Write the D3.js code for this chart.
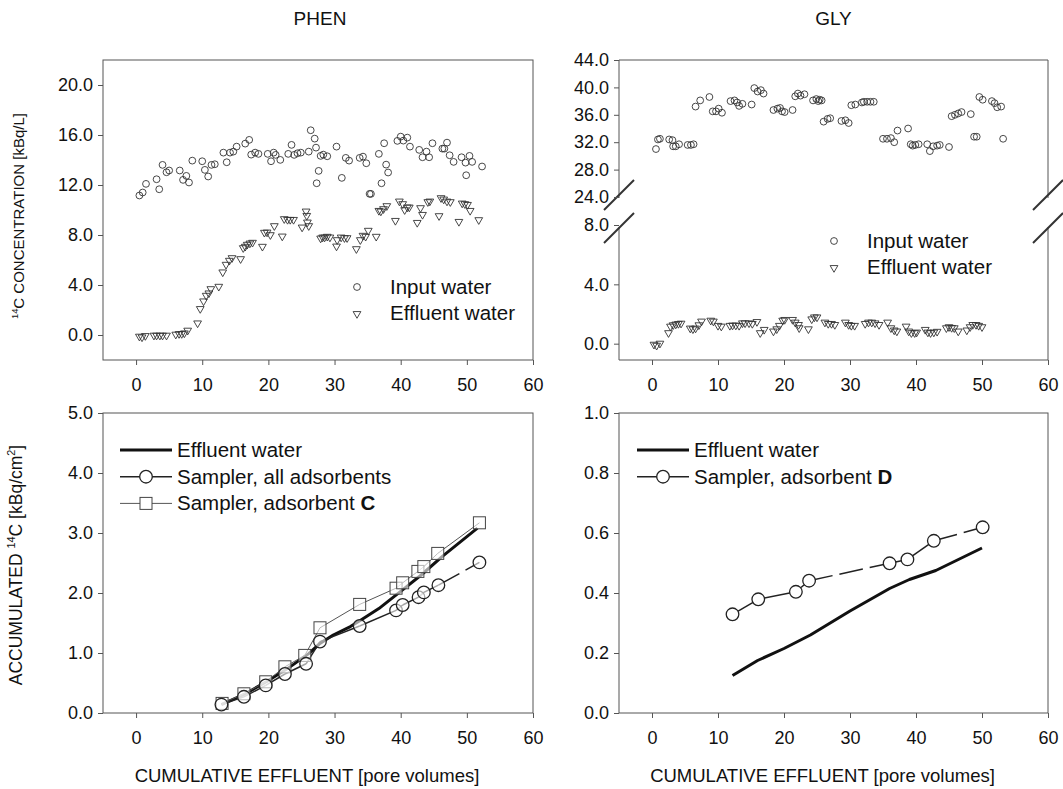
<!DOCTYPE html>
<html><head><meta charset="utf-8">
<script src="https://cdn.jsdelivr.net/npm/d3@7"></script>
<style>
body{margin:0;background:#fff}
svg{display:block}
text{font-family:"Liberation Sans",Arial,Helvetica,sans-serif;fill:#111}
</style>
</head><body>
<svg id="chart" width="1063" height="789"></svg>
<script>
// ---------------- DATA ----------------
const panelTitles = ["PHEN", "GLY"];
const xTicks = [0, 10, 20, 30, 40, 50, 60];
const phenConcTicks = [0, 4, 8, 12, 16, 20];
const glyUpperTicks = [24, 28, 32, 36, 40, 44];
const glyLowerTicks = [0, 4, 8];
const phenAccTicks = [0, 1, 2, 3, 4, 5];
const glyAccTicks = [0, 0.2, 0.4, 0.6, 0.8, 1.0];

// PHEN, 14C concentration [kBq/L]: [pore volumes, value]
const phenInput = [[0.5,11.16],[1.0,11.40],[1.5,12.09],[3.1,12.46],[3.5,11.66],[4.0,13.61],[4.6,13.02],[5.0,13.16],[6.6,13.16],[7.1,12.41],[7.6,12.73],[8.0,12.20],[8.5,13.95],[10.0,13.90],[10.4,13.21],[10.9,12.68],[11.4,13.61],[11.9,13.66],[13.2,14.59],[13.7,13.82],[14.2,14.59],[14.7,14.67],[15.2,15.07],[16.5,15.31],[17.1,15.61],[17.4,14.43],[18.0,14.59],[18.5,14.49],[19.9,14.49],[20.4,13.90],[20.8,14.59],[21.1,14.41],[21.8,14.01],[23.0,14.49],[23.5,15.21],[23.9,14.41],[24.4,14.54],[24.9,14.59],[26.1,14.67],[26.4,16.38],[27.0,15.71],[27.2,14.99],[27.3,12.14],[27.6,13.13],[27.9,14.33],[28.3,14.43],[28.9,14.30],[30.3,15.07],[31.1,12.57],[31.7,14.17],[32.2,13.95],[33.8,14.17],[34.3,14.27],[34.8,13.74],[35.3,11.29],[35.5,11.29],[36.7,14.49],[37.1,12.14],[37.5,15.34],[37.8,13.63],[38.1,13.00],[39.5,15.53],[40.0,15.87],[40.4,15.55],[41.0,15.79],[41.4,15.07],[42.8,14.81],[43.3,14.22],[43.9,14.67],[44.3,14.22],[44.8,15.34],[46.3,14.91],[46.6,14.91],[47.0,15.39],[47.4,14.38],[48.0,13.85],[49.2,14.22],[49.8,13.79],[49.9,12.78],[50.4,14.33],[50.8,13.85],[52.3,13.48]];
const phenEffluent = [[0.5,-0.05],[0.9,-0.11],[1.4,0.0],[2.7,0.03],[3.1,0.03],[3.6,0.03],[4.0,0.03],[4.6,0.03],[6.0,0.11],[6.5,0.16],[6.9,0.16],[7.3,0.21],[7.8,0.43],[9.3,1.01],[9.7,2.16],[10.2,2.77],[10.6,3.22],[11.0,3.41],[11.3,3.75],[12.5,3.94],[13.1,5.09],[13.6,5.70],[14.1,6.02],[14.5,6.23],[15.8,6.15],[16.2,7.03],[16.5,7.14],[16.8,7.30],[17.2,7.40],[17.6,7.46],[19.1,7.14],[19.4,8.26],[19.8,8.28],[20.3,8.07],[20.9,8.79],[22.1,7.96],[22.4,9.35],[22.9,9.29],[23.3,9.29],[23.8,9.29],[25.1,8.68],[25.7,9.96],[25.8,9.61],[25.9,9.08],[26.1,8.79],[27.9,7.80],[28.2,7.88],[28.5,7.88],[28.9,7.94],[29.3,7.88],[30.3,7.16],[30.4,7.67],[31.0,7.88],[31.5,7.83],[31.9,7.83],[33.3,6.95],[33.9,7.67],[34.3,8.02],[34.7,7.94],[35.1,8.42],[36.3,7.94],[36.7,10.01],[37.0,9.96],[37.4,10.15],[37.9,10.39],[39.2,9.21],[39.8,10.76],[40.3,10.55],[40.6,10.07],[41.0,10.28],[41.3,10.28],[42.5,9.05],[43.0,10.23],[43.3,9.69],[44.1,10.71],[44.4,10.76],[45.8,9.59],[46.1,11.03],[46.5,10.92],[47.0,10.76],[47.5,10.71],[48.8,9.13],[49.3,10.60],[49.7,10.55],[50.1,10.49],[50.5,10.01],[51.8,9.27]];

// GLY, 14C concentration [kBq/L]
const glyInput = [[0.6,31.0],[0.9,32.4],[1.2,32.5],[2.6,32.4],[3.1,32.3],[3.2,31.4],[3.6,31.4],[4.1,31.7],[5.4,31.6],[5.9,31.6],[6.3,31.7],[6.6,37.2],[7.3,38.1],[8.7,38.6],[9.2,36.5],[9.7,36.5],[10.1,36.9],[10.6,36.3],[11.9,38.0],[12.5,38.1],[12.9,37.8],[13.2,37.3],[13.7,37.6],[15.1,37.5],[15.5,39.9],[16.0,39.4],[16.5,39.6],[16.9,39.1],[18.4,36.7],[19.0,36.9],[19.4,37.0],[19.7,36.5],[20.1,36.4],[21.3,36.7],[21.7,38.7],[22.1,39.1],[22.5,38.8],[23.1,39.0],[24.4,38.1],[24.9,38.3],[25.2,38.0],[25.4,38.2],[25.7,38.1],[26.0,35.0],[26.6,35.4],[27.0,35.5],[28.7,35.1],[29.3,35.2],[29.8,34.8],[30.2,37.4],[30.8,37.5],[31.8,37.8],[32.1,37.9],[32.6,37.9],[33.1,37.9],[33.6,37.9],[35.0,32.5],[35.6,32.5],[36.2,32.6],[36.7,32.0],[37.2,33.7],[38.8,34.0],[39.2,31.7],[39.5,31.5],[39.9,31.6],[40.4,31.7],[41.7,31.7],[42.1,30.7],[42.6,31.4],[43.2,31.5],[43.6,31.6],[45.0,31.3],[45.4,35.8],[45.9,36.0],[46.4,36.2],[46.9,36.4],[48.3,36.1],[48.8,32.8],[49.2,32.8],[49.6,38.6],[50.1,38.2],[51.5,38.0],[51.9,37.7],[52.3,37.1],[52.9,37.2],[53.2,32.5]];
const glyEffluent = [[0.3,0.0],[0.7,-0.07],[1.2,0.07],[2.5,0.78],[2.8,1.22],[3.2,1.31],[3.6,1.36],[4.0,1.40],[4.4,1.42],[5.8,1.09],[6.2,1.04],[6.6,1.09],[7.1,1.31],[7.5,1.56],[8.9,1.62],[9.3,1.56],[10.0,1.27],[10.5,1.22],[11.8,1.27],[12.2,1.29],[12.7,1.29],[13.2,1.27],[13.7,1.44],[14.1,1.44],[14.7,1.44],[15.2,1.40],[15.9,1.53],[16.4,0.78],[17.0,1.00],[18.4,0.89],[18.9,1.04],[19.3,1.27],[19.8,1.62],[20.1,1.67],[21.3,1.67],[21.7,1.49],[22.2,1.33],[22.3,1.11],[23.7,1.04],[24.2,1.71],[24.6,1.84],[25.0,1.84],[26.2,1.49],[26.7,1.40],[27.2,1.40],[27.7,1.33],[29.3,1.49],[29.8,1.33],[30.2,1.27],[30.7,1.27],[32.3,1.40],[32.8,1.49],[33.3,1.49],[33.8,1.44],[34.4,1.33],[35.7,1.49],[36.2,1.11],[36.7,0.96],[37.1,0.89],[38.5,1.22],[38.9,0.89],[39.3,0.78],[39.8,0.78],[40.1,0.82],[41.4,1.00],[41.8,0.82],[42.2,0.78],[42.7,0.82],[43.2,0.87],[44.6,1.11],[45.0,1.18],[45.4,1.13],[45.8,1.11],[46.4,0.89],[47.7,0.96],[48.2,1.18],[48.6,1.33],[49.1,1.33],[49.5,1.27],[50.0,1.18]];

// PHEN, accumulated 14C [kBq/cm2]
const phenAccEffluent = [[12.9,0.14],[16.5,0.32],[19.7,0.52],[22.9,0.74],[26.1,0.99],[27.8,1.16],[29.8,1.30],[32.4,1.44],[34.0,1.55],[36.7,1.74],[39.9,2.02],[43.1,2.30],[46.3,2.61],[51.6,3.08]];
const phenAccAll = [[12.9,0.14],[16.3,0.27],[19.6,0.46],[22.5,0.65],[25.7,0.82],[27.8,1.19],[33.8,1.45],[39.3,1.71],[40.3,1.80],[42.7,1.93],[43.5,2.01],[45.7,2.13],[51.9,2.51]];
const phenAccC = [[13.0,0.16],[16.3,0.32],[19.6,0.52],[22.5,0.77],[25.5,0.96],[27.8,1.42],[33.8,1.81],[39.3,2.08],[40.3,2.17],[42.6,2.36],[43.5,2.44],[45.6,2.66],[51.9,3.17]];

// GLY, accumulated 14C [kBq/cm2]
const glyAccEffluent = [[12.2,0.125],[16.0,0.175],[20.0,0.215],[24.0,0.26],[30.0,0.34],[36.0,0.415],[39.0,0.445],[43.0,0.475],[50.0,0.55]];
const glyAccD = [[12.2,0.329],[16.1,0.379],[21.8,0.404],[23.8,0.441],[36.0,0.499],[38.7,0.512],[42.7,0.574],[50.1,0.619]];

// ---------------- DRAWING ----------------
const svg = d3.select("#chart");
const INK = "#1a1a1a", FRAME = "#555";
const L = {x0:103, x1:533}, R = {x0:619, x1:1048};
const TOP = {y0:60, y1:360}, BOT = {y0:413, y1:713};

const xL = d3.scaleLinear([-5, 60], [L.x0, L.x1]);
const xR = d3.scaleLinear([-5, 60], [R.x0, R.x1]);
const yPhenConc = d3.scaleLinear([-2, 22], [TOP.y1, TOP.y0]);
const yGlyUp = d3.scaleLinear([24, 44], [197, TOP.y0]);
const yGlyLow = d3.scaleLinear([-1.1, 8], [TOP.y1, 225]);
const yPhenAcc = d3.scaleLinear([0, 5], [BOT.y1, BOT.y0]);
const yGlyAcc = d3.scaleLinear([0, 1], [BOT.y1, BOT.y0]);

function styleAxis(g, fs){
  g.select(".domain").remove();
  g.selectAll(".tick line").attr("stroke", FRAME).attr("stroke-width", 1);
  g.selectAll(".tick text").attr("fill", INK).style("font-size", fs + "px")
    .style("font-family", '"Liberation Sans",Arial,sans-serif');
}
function xAxis(x, y){
  const g = svg.append("g").attr("transform", `translate(0,${y})`)
    .call(d3.axisBottom(x).tickValues(xTicks).tickSize(5).tickPadding(13).tickFormat(d3.format("d")));
  styleAxis(g, 18);
}
function yAxis(y, x, ticks, fmt){
  const g = svg.append("g").attr("transform", `translate(${x},0)`)
    .call(d3.axisLeft(y).tickValues(ticks).tickSize(5).tickPadding(5).tickFormat(d3.format(fmt)));
  styleAxis(g, 18);
}
function frame(P, V){
  svg.append("rect").attr("x", P.x0).attr("y", V.y0).attr("width", P.x1 - P.x0).attr("height", V.y1 - V.y0)
    .attr("fill", "none").attr("stroke", FRAME).attr("stroke-width", 1);
}
function line(x1,y1,x2,y2,w,c){
  svg.append("line").attr("x1",x1).attr("y1",y1).attr("x2",x2).attr("y2",y2)
    .attr("stroke", c||FRAME).attr("stroke-width", w||1);
}

// Titles
svg.append("text").attr("x", (L.x0+L.x1)/2 + 2).attr("y", 25).attr("text-anchor","middle").style("font-size","19px").text(panelTitles[0]);
svg.append("text").attr("x", (R.x0+R.x1)/2).attr("y", 25).attr("text-anchor","middle").style("font-size","19px").text(panelTitles[1]);

// Frames
frame(L, TOP); frame(L, BOT); frame(R, BOT);
// GLY top frame with axis break
line(R.x0, TOP.y0, R.x1, TOP.y0);
line(R.x0, TOP.y1, R.x1, TOP.y1);
[R.x0, R.x1].forEach(x => { line(x, TOP.y0, x, 198); line(x, 227, x, TOP.y1); });
[R.x0, R.x1].forEach(x => {
  [195, 228].forEach(yc => line(x-15, yc+15, x+15, yc-15, 2, "#333"));
});

// Axes
xAxis(xL, TOP.y1); xAxis(xR, TOP.y1); xAxis(xL, BOT.y1); xAxis(xR, BOT.y1);
yAxis(yPhenConc, L.x0, phenConcTicks, ".1f");
yAxis(yGlyUp, R.x0, glyUpperTicks, ".1f");
yAxis(yGlyLow, R.x0, glyLowerTicks, ".1f");
yAxis(yPhenAcc, L.x0, phenAccTicks, ".1f");
yAxis(yGlyAcc, R.x0, glyAccTicks, ".1f");

// Axis titles
function yTitle(cx, cy, parts, fs){
  const t = svg.append("text").attr("transform", `translate(${cx},${cy}) rotate(-90)`)
    .attr("text-anchor","middle").style("font-size", fs+"px");
  let shift = 0;
  parts.forEach(p => {
    const s = t.append("tspan").text(p.t);
    if (p.sup){ s.style("font-size", (fs*0.62)+"px").attr("dy", -fs*0.38 - shift); shift = -fs*0.38; }
    else { s.attr("dy", -shift); shift = 0; }
  });
}
yTitle(24, 216, [{t:"14",sup:true},{t:"C CONCENTRATION [kBq/L]"}], 15);
yTitle(22, 565, [{t:"ACCUMULATED "},{t:"14",sup:true},{t:"C [kBq/cm"},{t:"2",sup:true},{t:"]"}], 17.5);
[L, R].forEach(P => svg.append("text").attr("x", (P.x0+P.x1)/2 - 11).attr("y", 782).attr("text-anchor","middle")
  .style("font-size","18.5px").text("CUMULATIVE EFFLUENT [pore volumes]"));

// Markers
const tri = d3.symbol().type(d3.symbolTriangle).size(26);
function circles(data, x, y, r, sw){
  svg.append("g").selectAll("circle").data(data).join("circle")
    .attr("cx", d => x(d[0])).attr("cy", d => y(d[1])).attr("r", r)
    .attr("fill", "none").attr("stroke", "#333").attr("stroke-width", sw);
}
function triangles(data, x, y){
  svg.append("g").selectAll("path").data(data).join("path")
    .attr("d", tri).attr("transform", d => `translate(${x(d[0])},${y(d[1])+0.8}) rotate(180)`)
    .attr("fill", "none").attr("stroke", "#333").attr("stroke-width", 0.9);
}
circles(phenInput, xL, yPhenConc, 3.4, 0.9);
triangles(phenEffluent, xL, yPhenConc);
circles(glyInput, xR, yGlyUp, 3.4, 0.9);
triangles(glyEffluent, xR, yGlyLow);

// top legends
function scatterLegend(cx, cy){
  svg.append("circle").attr("cx", cx).attr("cy", cy).attr("r", 3.4).attr("fill","none").attr("stroke","#333").attr("stroke-width",0.9);
  svg.append("path").attr("d", tri).attr("transform", `translate(${cx},${cy+26.8}) rotate(180)`).attr("fill","none").attr("stroke","#333").attr("stroke-width",0.9);
  svg.append("text").attr("x", cx+33).attr("y", cy+7).style("font-size","20.5px").text("Input water");
  svg.append("text").attr("x", cx+33).attr("y", cy+33).style("font-size","20.5px").text("Effluent water");
}
scatterLegend(357, 287);
scatterLegend(834, 241);

// Bottom line charts
function pathLine(data, x, y, w, c, dash){
  const p = svg.append("path").datum(data).attr("d", d3.line().x(d => x(d[0])).y(d => y(d[1])))
    .attr("fill","none").attr("stroke", c).attr("stroke-width", w).attr("stroke-linejoin","round");
  if (dash) p.attr("stroke-dasharray", dash);
  return p;
}
function segLine(data, x, y, w, c, dashedIdx){
  for (let i = 0; i < data.length - 1; i++){
    pathLine([data[i], data[i+1]], x, y, w, c, dashedIdx.includes(i) ? "24,7" : null);
  }
}
// PHEN
pathLine(phenAccEffluent, xL, yPhenAcc, 3, "#111");
pathLine(phenAccC, xL, yPhenAcc, 1, "#555");
segLine(phenAccAll, xL, yPhenAcc, 1.5, "#222", [11]);
svg.append("g").selectAll("rect").data(phenAccC).join("rect")
  .attr("x", d => xL(d[0]) - 6).attr("y", d => yPhenAcc(d[1]) - 6).attr("width", 12).attr("height", 12)
  .attr("fill","#fff").attr("fill-opacity",0.6).attr("stroke","#444").attr("stroke-width",1);
svg.append("g").selectAll("circle").data(phenAccAll).join("circle")
  .attr("cx", d => xL(d[0])).attr("cy", d => yPhenAcc(d[1])).attr("r", 6.3)
  .attr("fill","#fff").attr("fill-opacity",0.6).attr("stroke","#222").attr("stroke-width",1.3);
// GLY
pathLine(glyAccEffluent, xR, yGlyAcc, 3, "#111");
segLine(glyAccD, xR, yGlyAcc, 1.5, "#222", [3, 6]);
svg.append("g").selectAll("circle").data(glyAccD).join("circle")
  .attr("cx", d => xR(d[0])).attr("cy", d => yGlyAcc(d[1])).attr("r", 6.3)
  .attr("fill","#fff").attr("stroke","#222").attr("stroke-width",1.3);

// Bottom legends
function lineLegend(x0, y0, rows){
  rows.forEach((r, i) => {
    const y = y0 + i*26.7;
    svg.append("line").attr("x1", x0).attr("x2", x0+52).attr("y1", y).attr("y2", y)
      .attr("stroke", r.c).attr("stroke-width", r.w);
    if (r.m === "circle") svg.append("circle").attr("cx", x0+26).attr("cy", y).attr("r", 6.3).attr("fill","#fff").attr("stroke","#222").attr("stroke-width",1.3);
    if (r.m === "square") svg.append("rect").attr("x", x0+20).attr("y", y-6).attr("width",12).attr("height",12).attr("fill","#fff").attr("stroke","#444").attr("stroke-width",1);
    const t = svg.append("text").attr("x", x0+57).attr("y", y+7).style("font-size","20.5px");
    t.append("tspan").text(r.t);
    if (r.b) t.append("tspan").style("font-weight","bold").text(r.b);
  });
}
lineLegend(120, 450, [
  {t:"Effluent water", c:"#111", w:3},
  {t:"Sampler, all adsorbents", c:"#222", w:1.5, m:"circle"},
  {t:"Sampler, adsorbent ", b:"C", c:"#555", w:1, m:"square"}
]);
lineLegend(637, 450, [
  {t:"Effluent water", c:"#111", w:3},
  {t:"Sampler, adsorbent ", b:"D", c:"#222", w:1.5, m:"circle"}
]);
</script>
</body></html>
